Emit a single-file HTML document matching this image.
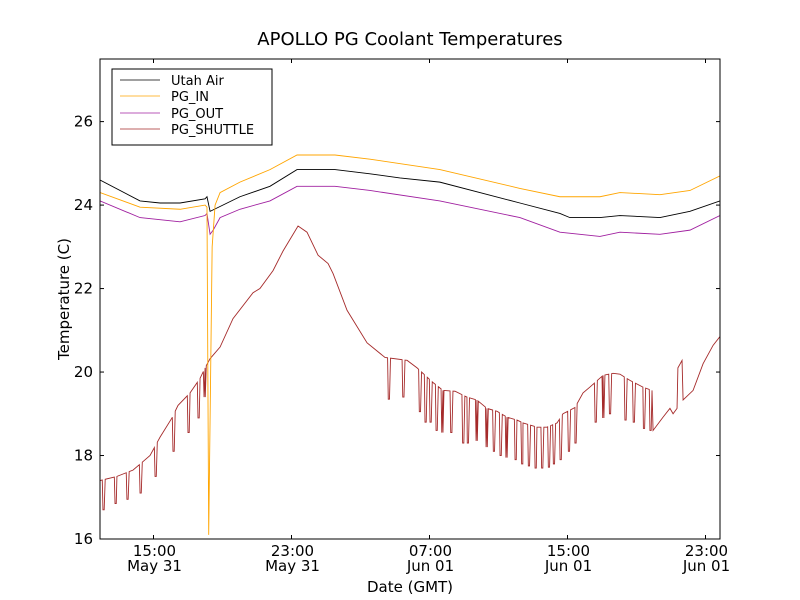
<!DOCTYPE html>
<html><head><meta charset="utf-8"><style>
body{margin:0;background:#fff;}
svg{display:block;font-family:"DejaVu Sans","Liberation Sans",sans-serif;}
</style></head><body>
<svg id="chart" width="800" height="600" viewBox="0 0 800 600">
<rect x="0" y="0" width="800" height="600" fill="#fff"/>
<text x="410" y="45" font-size="18" text-anchor="middle">APOLLO PG Coolant Temperatures</text>
<g id="plot"></g>
<g id="axes"></g>
<text x="410" y="592" font-size="15" text-anchor="middle">Date (GMT)</text>
<text transform="translate(69,299) rotate(-90)" font-size="15" text-anchor="middle">Temperature (C)</text>
<g>
<rect x="112" y="69" width="160" height="76" fill="#fff" stroke="#000" stroke-width="1"/>
<g><line x1="120" x2="160" y1="80" y2="80" stroke="#000" stroke-width="0.8"/><text x="171" y="85" font-size="13">Utah Air</text></g>
<g><line x1="120" x2="160" y1="96" y2="96" stroke="#ffa500" stroke-width="0.8"/><text x="171" y="101" font-size="13">PG_IN</text></g>
<g><line x1="120" x2="160" y1="113" y2="113" stroke="#a020a0" stroke-width="0.8"/><text x="171" y="118" font-size="13">PG_OUT</text></g>
<g><line x1="120" x2="160" y1="129" y2="129" stroke="#a52a2a" stroke-width="0.8"/><text x="171" y="134" font-size="13">PG_SHUTTLE</text></g>
</g>
</svg>
<script>
// hours since May 31 00:00 GMT
const airHours=[11.9,14.22,15.38,16.54,17.99,18.1,18.28,20.01,21.75,23.32,25.52,27.55,29.28,31.6,33.92,36.24,38.56,39.14,40.88,42.04,44.36,46.1,47.84];
const airValues=[24.6,24.1,24.05,24.05,24.15,24.2,23.85,24.2,24.45,24.85,24.85,24.75,24.65,24.55,24.3,24.05,23.8,23.7,23.7,23.75,23.7,23.85,24.1];
const inHours=[11.9,14.22,16.54,17.99,18.1,18.2,18.4,18.57,18.86,20.01,21.75,23.32,25.52,27.55,31.6,36.24,38.56,40.88,42.04,44.36,46.1,47.84];
const inValues=[24.3,23.95,23.9,24.0,23.95,16.1,23.0,24.0,24.3,24.55,24.85,25.2,25.2,25.1,24.85,24.4,24.2,24.2,24.3,24.25,24.35,24.7];
const outHours=[11.9,14.22,16.54,17.99,18.1,18.28,18.46,18.86,20.01,21.75,23.32,25.52,27.55,31.6,36.24,38.56,40.88,42.04,44.36,46.1,47.84];
const outValues=[24.1,23.7,23.6,23.75,23.8,23.3,23.4,23.7,23.9,24.1,24.45,24.45,24.35,24.1,23.7,23.35,23.25,23.35,23.3,23.4,23.75];
const shuttleHours=[11.9,12.88,13.81,14.8,15.38,16.07,16.42,17.12,17.7,17.99,18.28,18.86,19.61,20.77,21.17,21.93,22.51,23.38,23.9,24.54,25.12,25.41,26.22,27.38,28.42,29.7,30.28,31.2,31.78,32.48,33.17,33.75,34.33,34.91,35.49,36.07,36.42,37.23,37.81,38.39,38.74,39.43,39.9,40.3,41.06,41.64,42.04,42.62,43.37,43.9,43.96,44.54,44.94,45.12,45.35,45.4,45.64,45.7,46.28,46.86,47.44,47.84];
const shuttleValues=[17.4,17.5,17.65,18.0,18.44,18.9,19.2,19.5,19.85,20.1,20.32,20.6,21.28,21.9,22.0,22.43,22.9,23.5,23.35,22.8,22.6,22.36,21.48,20.7,20.35,20.28,20.1,19.75,19.56,19.54,19.4,19.33,19.13,19.06,18.92,18.85,18.78,18.68,18.68,18.78,19.0,19.15,19.5,19.64,19.92,19.97,19.95,19.8,19.64,19.56,18.6,18.92,19.13,19.0,19.13,20.1,20.28,19.33,19.56,20.2,20.64,20.85];
const dipHours=[12.07,12.77,13.46,14.22,15.09,16.13,17.0,17.58,17.93,28.61,29.45,30.41,30.74,31.03,31.38,31.71,32.23,32.92,33.19,33.7,34.28,34.7,35.09,35.43,35.96,36.34,36.73,37.12,37.5,37.89,38.18,38.57,39.05,39.43,40.6,41.04,41.43,42.33,42.81,43.4,43.78];
const dipLows=[16.7,16.85,16.95,17.1,17.5,18.1,18.55,18.9,19.4,19.35,19.4,19.05,18.8,18.8,18.6,18.55,18.55,18.3,18.3,18.35,18.2,18.1,18.0,17.95,17.9,17.8,17.75,17.7,17.7,17.72,17.8,17.9,18.1,18.3,18.8,18.9,19.0,18.85,18.8,18.65,18.6];
const yTicks=[16,18,20,22,24,26];
const xTickHours=[15,23,31,39,47];
const xTickTimes=["15:00","23:00","07:00","15:00","23:00"];
const xTickDates=["May 31","May 31","Jun 01","Jun 01","Jun 01"];

const L=100,R=720,T=59,B=539;
const xs=h=>153.5+(h-15)*17.25;
const ys=v=>B-(v-16)*(B-T)/11.5;
const NS="http://www.w3.org/2000/svg";
const plot=document.getElementById('plot'), axes=document.getElementById('axes');
function mk(tag,attrs,parent){const e=document.createElementNS(NS,tag);for(const k in attrs)e.setAttribute(k,attrs[k]);parent.appendChild(e);return e;}
const clip=mk('clipPath',{id:'pc'},plot);mk('rect',{x:L,y:T,width:R-L,height:B-T},clip);
function line(hs,vs,color,name){
  const d=hs.map((h,i)=>(i?'L':'M')+xs(h).toFixed(2)+' '+ys(vs[i]).toFixed(2)).join(' ');
  const p=mk('path',{d:d,fill:'none',stroke:color,'stroke-width':0.9,'clip-path':'url(#pc)'},plot);
  
  
}
function env(h){for(let i=1;i<shuttleHours.length;i++){if(h<=shuttleHours[i]){const a=shuttleHours[i-1],b=shuttleHours[i];return shuttleValues[i-1]+(shuttleValues[i]-shuttleValues[i-1])*(h-a)/(b-a);}}return shuttleValues[shuttleValues.length-1];}
let pts=shuttleHours.map((h,i)=>[h,shuttleValues[i]]);
dipHours.forEach((d,i)=>{pts.push([d-0.04,env(d-0.04)],[d,dipLows[i]],[d+0.07,dipLows[i]],[d+0.13,env(d+0.13)]);});
pts.sort((a,b)=>a[0]-b[0]);
line(pts.map(p=>p[0]),pts.map(p=>p[1]),'#a52a2a','pg-shuttle-line');
line(outHours,outValues,'#a020a0','pg-out-line');
line(airHours,airValues,'#000000','utah-air-line');
line(inHours,inValues,'#ffa500','pg-in-line');
const frame=mk('rect',{x:L,y:T,width:R-L,height:B-T,fill:'none',stroke:'#000','stroke-width':1},axes);


yTicks.forEach(v=>{const y=ys(v);
  mk('line',{x1:L,x2:L+4,y1:y,y2:y,stroke:'#000'},axes);mk('line',{x1:R-4,x2:R,y1:y,y2:y,stroke:'#000'},axes);
  const t=mk('text',{x:L-7,y:y+5,'font-size':15,'text-anchor':'end'},axes);t.textContent=v;
  
  
});
xTickHours.forEach((h,i)=>{const x=xs(h);
  mk('line',{x1:x,x2:x,y1:B-4,y2:B,stroke:'#000'},axes);mk('line',{x1:x,x2:x,y1:T,y2:T+4,stroke:'#000'},axes);
  const t=mk('text',{x:x+1,y:B+17,'font-size':15,'text-anchor':'middle'},axes);t.textContent=xTickTimes[i];
  
  
  const t2=mk('text',{x:x+1,y:B+32,'font-size':15,'text-anchor':'middle'},axes);t2.textContent=xTickDates[i];
  
  
});
</script>
</body></html>
